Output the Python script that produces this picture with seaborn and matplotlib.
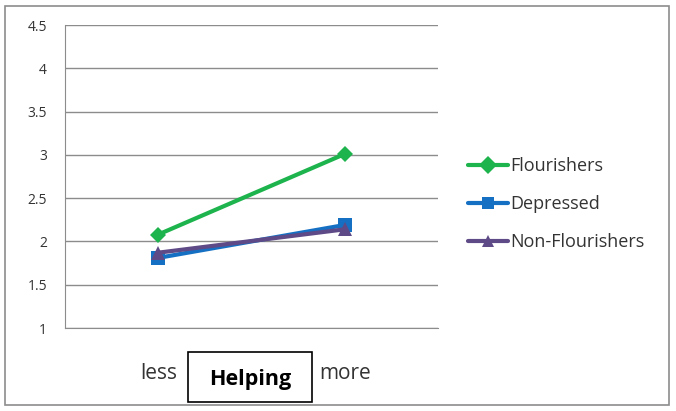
import matplotlib
matplotlib.use("Agg")
import matplotlib.pyplot as plt
import seaborn as sns
import pandas as pd
from matplotlib.patches import Rectangle

categories = ["less", "more"]
flourishers = [2.08, 3.01]
depressed = [1.81, 2.19]
non_flourishers = [1.87, 2.14]
series_names = ["Flourishers", "Depressed", "Non-Flourishers"]
y_ticks = [1, 1.5, 2, 2.5, 3, 3.5, 4, 4.5]
y_tick_labels = ["1", "1.5", "2", "2.5", "3", "3.5", "4", "4.5"]
x_title = "Helping"

rows = []
for name, vals in zip(series_names, [flourishers, depressed, non_flourishers]):
    for c, v in zip(categories, vals):
        rows.append({"cat": c, "value": v, "series": name})
df = pd.DataFrame(rows)

sns.set_style("white")
plt.rcParams['font.family'] = ['Open Sans', 'DejaVu Sans']

W, H = 676, 411
fig = plt.figure(figsize=(6.76, 4.11), dpi=100)
ax = fig.add_axes([65/W, 1 - 328/H, (438-65)/W, (328-25)/H])

palette = {"Flourishers": "#1DB34D", "Depressed": "#1570C4", "Non-Flourishers": "#5E4A86"}
markers = {"Flourishers": "D", "Depressed": "s", "Non-Flourishers": "^"}
sizes_m = {"Flourishers": 8, "Depressed": 10, "Non-Flourishers": 10}

sns.lineplot(data=df, x="cat", y="value", hue="series", style="series",
             palette=palette, markers=markers, dashes=False, linewidth=3,
             markersize=9, markeredgewidth=0, ax=ax, legend=True, sort=False)
for line, name in zip(ax.lines, series_names):
    line.set_markersize(sizes_m[name])

ax.set_xlim(-0.5, 1.5)
ax.set_ylim(1, 4.5)
ax.set_yticks(y_ticks)
ax.set_yticklabels(y_tick_labels, fontsize=10, color="#333333")
ax.yaxis.grid(True, color="#8c8c8c", linewidth=1)
ax.set_axisbelow(True)

ax.set_xticks([-0.5, 0.5, 1.5])
ax.set_xticklabels(["", "", ""])
ax.set_xticks([0, 1], minor=True)
ax.set_xticklabels(categories, minor=True, fontsize=15, color="#333333")
ax.tick_params(axis="x", which="minor", length=0, pad=25)
ax.tick_params(axis="x", which="major", length=7, color="#8c8c8c", direction="out")
ax.tick_params(axis="y", length=6, color="#8c8c8c", direction="out", pad=7)
ax.set_xlabel("")
ax.set_ylabel("")

for s in ["top", "right"]:
    ax.spines[s].set_visible(False)
ax.spines["left"].set_color("#8c8c8c")
ax.spines["bottom"].set_color("#8c8c8c")

fig.text(250/W, 1 - 379/H, x_title, ha="center", va="center",
         fontsize=15.5, fontweight="bold", color="black")
fig.patches.append(Rectangle((188/W, 1 - 402/H), 124/W, 50/H, transform=fig.transFigure,
                             fill=False, edgecolor="black", linewidth=1.2))

handles, labels = ax.get_legend_handles_labels()
leg = ax.legend(handles, labels, loc="center left", bbox_to_anchor=(461/W, 1 - 204/H),
                bbox_transform=fig.transFigure, frameon=False, fontsize=13,
                handlelength=2.2, labelspacing=1.1, handletextpad=0.15, borderaxespad=0)
for t in leg.get_texts():
    t.set_color("#333333")

fig.patches.append(Rectangle((5/W, 6/H), 664/W, 399/H, transform=fig.transFigure,
                             fill=False, edgecolor="#8c8c8c", linewidth=1.2))

fig.savefig("out.png", dpi=100)
